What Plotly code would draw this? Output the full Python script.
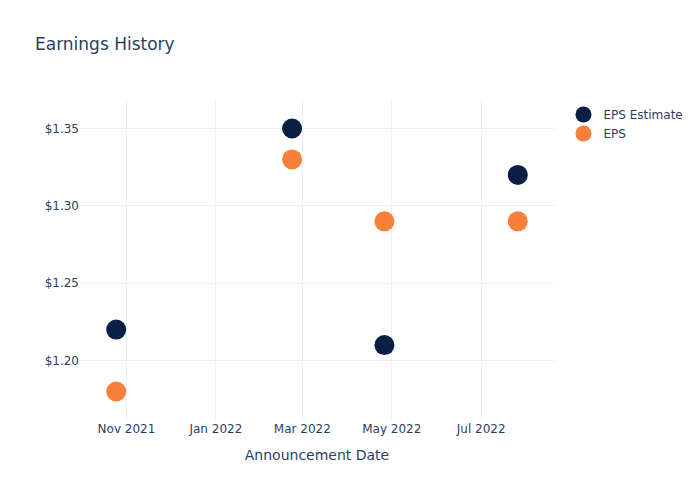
import plotly.graph_objects as go

dates = ["2021-10-25", "2022-02-22", "2022-04-26", "2022-07-26"]
eps_estimate = [1.22, 1.35, 1.21, 1.32]
eps_actual = [1.18, 1.33, 1.29, 1.29]

fig = go.Figure()
fig.add_trace(go.Scatter(x=dates, y=eps_estimate, mode="markers", name="EPS Estimate",
                         marker=dict(color="#0a1f44", size=20)))
fig.add_trace(go.Scatter(x=dates, y=eps_actual, mode="markers", name="EPS",
                         marker=dict(color="#f7813a", size=20)))
fig.update_layout(
    template="plotly_white",
    width=700, height=500,
    font=dict(family="DejaVu Sans"),
    title=dict(text="Earnings History"),
    xaxis=dict(title="Announcement Date"),
    yaxis=dict(tickprefix="$", tickformat=".2f"),
)
fig.write_html("out.html", config={"displayModeBar": False},
               post_script="document.body.style.margin='0';")
